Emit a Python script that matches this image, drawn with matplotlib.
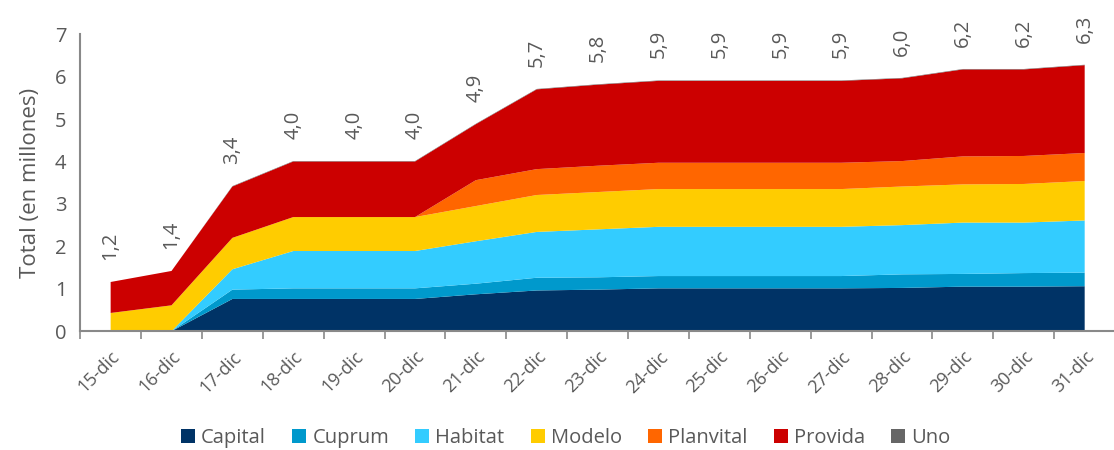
import numpy as np
import matplotlib
matplotlib.use("Agg")
import matplotlib.pyplot as plt

plt.rcParams['font.family'] = ['Open Sans', 'DejaVu Sans']

# datos (en millones)
dias = ['15-dic', '16-dic', '17-dic', '18-dic', '19-dic', '20-dic', '21-dic', '22-dic',
        '23-dic', '24-dic', '25-dic', '26-dic', '27-dic', '28-dic', '29-dic', '30-dic', '31-dic']
capital   = [0, 0, 0.76, 0.76, 0.76, 0.76, 0.87, 0.96, 0.98, 1.01, 1.01, 1.01, 1.01, 1.02, 1.05, 1.05, 1.06]
cuprum    = [0, 0, 0.22, 0.25, 0.25, 0.25, 0.25, 0.30, 0.29, 0.29, 0.29, 0.29, 0.29, 0.32, 0.30, 0.32, 0.32]
habitat   = [0, 0, 0.48, 0.88, 0.88, 0.88, 1.00, 1.08, 1.13, 1.16, 1.16, 1.16, 1.16, 1.16, 1.21, 1.19, 1.23]
modelo    = [0.43, 0.61, 0.74, 0.80, 0.80, 0.80, 0.83, 0.87, 0.88, 0.89, 0.89, 0.89, 0.89, 0.91, 0.90, 0.91, 0.93]
planvital = [0, 0, 0, 0, 0, 0, 0.61, 0.61, 0.62, 0.62, 0.62, 0.62, 0.62, 0.60, 0.66, 0.66, 0.66]
provida   = [0.73, 0.81, 1.21, 1.31, 1.31, 1.31, 1.32, 1.88, 1.91, 1.93, 1.93, 1.93, 1.93, 1.95, 2.05, 2.04, 2.07]
uno       = [0, 0, 0.01, 0.01, 0.01, 0.01, 0.01, 0.01, 0.01, 0.01, 0.01, 0.01, 0.01, 0.01, 0.01, 0.01, 0.01]

nombres = ['Capital', 'Cuprum', 'Habitat', 'Modelo', 'Planvital', 'Provida', 'Uno']
colores = ['#003366', '#0099CC', '#33CCFF', '#FFCC00', '#FF6600', '#CC0000', '#666666']

gris = '#595959'

fig = plt.figure(figsize=(11.14, 4.5), dpi=100)
ax = fig.add_axes([0.072, 0.264, 0.929, 0.66])

x = np.arange(len(dias))
series = [capital, cuprum, habitat, modelo, planvital, provida, uno]
ax.stackplot(x, series, colors=colores, labels=nombres, linewidth=0)

# totales encima
total = np.sum(series, axis=0)
for xi, t in zip(x, total):
    ax.annotate(('%.1f' % (t + 1e-9)).replace('.', ','), (xi, t), xytext=(0, 22),
                textcoords='offset pixels', rotation=90, ha='center', va='bottom',
                fontsize=14.5, color=gris)

ax.set_xlim(-0.5, len(dias) - 0.5)
ax.set_ylim(0, 7)
ax.set_yticks(range(8))
ax.set_xticks(x)
ax.set_xticklabels(dias, rotation=45, ha='right', rotation_mode='anchor')
ax.set_xticks(np.arange(-0.5, len(dias) + 0.5, 1), minor=True)
ax.tick_params(axis='x', which='major', length=0, labelsize=13, labelcolor=gris, pad=12)
ax.tick_params(axis='x', which='minor', length=6, color='#898989', width=1.2)
ax.tick_params(axis='y', length=0, labelsize=14.5, labelcolor=gris, pad=10)
ax.set_ylabel('Total (en millones)', fontsize=16, color=gris, labelpad=10)

for s in ['top', 'right']:
    ax.spines[s].set_visible(False)
for s in ['left', 'bottom']:
    ax.spines[s].set_color('#898989')
    ax.spines[s].set_linewidth(1.5)

fig.legend(loc='lower center', bbox_to_anchor=(0.508, -0.035), ncol=7, frameon=False,
           fontsize=14.5, labelcolor=gris, handlelength=0.7, handleheight=0.7,
           handletextpad=0.3, columnspacing=1.3)

fig.savefig('out.png', dpi=100)
